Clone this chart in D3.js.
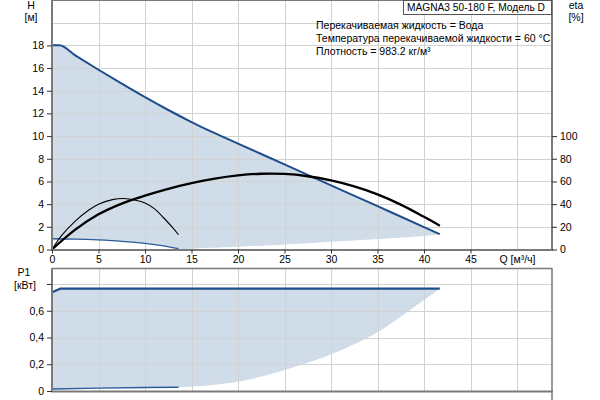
<!DOCTYPE html>
<html><head><meta charset="utf-8">
<script src="https://cdn.jsdelivr.net/npm/d3@7"></script>
<style>body{margin:0;background:#fff}svg{display:block;font-family:"Liberation Sans",Arial,sans-serif}</style>
</head><body><svg id="c" width="600" height="400"></svg>
<script>
// ---- data ----
const qTicks = [0,5,10,15,20,25,30,35,40,45];
const qAxisLabel = "Q [м³/ч]";
const hTicks = [0,2,4,6,8,10,12,14,16,18];
const hGrid = [0,2,4,6,8,10,12,14,16,18,20];
const etaTicks = [0,20,40,60,80,100];
const pTicks = [0,0.2,0.4,0.6];
const pGrid = [0,0.2,0.4,0.6,0.8];

// max-speed head curve
const hMaxQ = [0,0.8,2.5,5,7.5,10,12.5,15,17.5,20,25,30,35,40,41.7];
const hMaxH = [18,18,17.12,15.85,14.62,13.43,12.3,11.24,10.26,9.34,7.5,5.66,3.82,1.98,1.35];
// min-speed head curve
const hMinQ = [0,2.5,5,7.5,10,12,13.6];
const hMinH = [0.95,0.92,0.84,0.72,0.54,0.32,0.07];
// lower boundary of operating area (head)
const hLowQ = [13.6,17,20,25,30,35,40,41.7];
const hLowH = [0.07,0.15,0.25,0.45,0.69,0.93,1.2,1.35];
// efficiency max speed
const etaMaxQ = [0,2.5,5,7.5,10,12.5,15,17.5,20,22.5,25,27.5,30,32.5,35,37.5,40,41.7];
const etaMaxV = [0,17.5,31,40.5,47.5,53.5,58.5,62.5,65.3,66.8,66.6,64.6,60.9,55.6,48.6,39.6,28.8,21];
// efficiency min speed
const etaMinQ = [0,1,2.5,4,5,6.5,7.7,9,10,11,12,13,13.6];
const etaMinV = [0,12,25,35,40,44,45,43.5,41,36,28,19,13];
// power
const pMaxQ = [0,0.9,41.7];
const pMaxV = [0.738,0.765,0.765];
const pMinQ = [0,5,10,13.6];
const pMinV = [0.015,0.022,0.026,0.028];
const pLowQ = [13.6,20,25,30,35,40,41.7];
const pLowV = [0.028,0.07,0.157,0.274,0.44,0.68,0.765];

const title = "MAGNA3 50-180 F, Модель D";
const notes = ["Перекачиваемая жидкость = Вода","Температура перекачиваемой жидкости = 60 °C","Плотность = 983.2 кг/м³"];

// ---- layout ----
const svg = d3.select("#c");
const L = 52, R = 552;
const x = d3.scaleLinear().domain([0,50]).range([52,517]);
const yH = d3.scaleLinear().domain([0,22]).range([249.5,0]);
const yE = d3.scaleLinear().domain([0,220]).range([249.5,0]);
const yP = d3.scaleLinear().domain([0,0.8]).range([391,284]);
const topT = 0, topB = 249.5, botT = 269, botB = 391;

const FILL = "#d0dce8", BLUE = "#1d4d8c", GRID = "#d2d2d2", AX = "#7a7a7a";
const fs = "10.5px";
const zip = (a,b) => a.map((v,i)=>[v,b[i]]);

const fillG = svg.append("g");
const crv = d3.curveCatmullRom.alpha(0.5);
const lineHm = d3.line().x(d=>x(d[0])).y(d=>yH(d[1])).curve(d3.curveMonotoneX);
const lineH = d3.line().x(d=>x(d[0])).y(d=>yH(d[1])).curve(crv);
const lineE = d3.line().x(d=>x(d[0])).y(d=>yE(d[1])).curve(crv);
const lineP = d3.line().x(d=>x(d[0])).y(d=>yP(d[1]));
const linePc = d3.line().x(d=>x(d[0])).y(d=>yP(d[1])).curve(crv);

// fills
const hUpper = zip(hMaxQ,hMaxH);
const hLower = zip(hMinQ,hMinH).concat(zip(hLowQ,hLowH).slice(1));
fillG.append("path").attr("d", lineHm(hUpper) + "L" + lineH(hLower.slice().reverse()).slice(1) + "Z").attr("fill",FILL);
const pLower = zip(pMinQ,pMinV).concat(zip(pLowQ,pLowV).slice(1));
fillG.append("path").attr("d", lineP(zip(pMaxQ,pMaxV)) + "L" + linePc(pLower.slice().reverse()).slice(1) + "Z").attr("fill",FILL);

// grid
const gg = svg.append("g").attr("stroke",GRID).attr("stroke-width",1);
qTicks.concat([50]).forEach(q=>{
  const xx = Math.round(x(q))+0.5;
  gg.append("line").attr("x1",xx).attr("x2",xx).attr("y1",topT).attr("y2",topB);
  gg.append("line").attr("x1",xx).attr("x2",xx).attr("y1",botT).attr("y2",botB);
});
hGrid.forEach(h=>{const yy=Math.round(yH(h))+0.5; gg.append("line").attr("x1",L).attr("x2",R).attr("y1",yy).attr("y2",yy);});
pGrid.forEach(p=>{const yy=Math.round(yP(p))+0.5; gg.append("line").attr("x1",L).attr("x2",R).attr("y1",yy).attr("y2",yy);});

// curves
svg.append("path").attr("d",lineH(zip(hMinQ,hMinH))).attr("fill","none").attr("stroke","#2a5a98").attr("stroke-width",1.3);
svg.append("path").attr("d",lineHm(hUpper)).attr("fill","none").attr("stroke",BLUE).attr("stroke-width",2);
svg.append("path").attr("d",lineE(zip(etaMinQ,etaMinV))).attr("fill","none").attr("stroke","#000").attr("stroke-width",1.1);
svg.append("path").attr("d",lineE(zip(etaMaxQ,etaMaxV))).attr("fill","none").attr("stroke","#000").attr("stroke-width",2.3);
svg.append("path").attr("d",lineP(zip(pMaxQ,pMaxV))).attr("fill","none").attr("stroke",BLUE).attr("stroke-width",2.2);
svg.append("path").attr("d",lineP(zip(pMinQ,pMinV))).attr("fill","none").attr("stroke","#2a5a98").attr("stroke-width",1.3);

// frames
const fr = svg.append("g").attr("stroke",AX).attr("fill","none");
fr.append("line").attr("x1",L).attr("x2",R).attr("y1",0.5).attr("y2",0.5).attr("stroke-width",1);
fr.append("line").attr("x1",L).attr("x2",R).attr("y1",botT-0.5).attr("y2",botT-0.5).attr("stroke-width",1.5);
fr.append("line").attr("x1",R).attr("x2",R).attr("y1",botT-1).attr("y2",400).attr("stroke-width",1.5);
fr.append("line").attr("x1",R).attr("x2",R).attr("y1",0).attr("y2",topB+1).attr("stroke-width",2);
fr.append("line").attr("x1",L).attr("x2",L).attr("y1",0).attr("y2",topB+1).attr("stroke-width",2);
fr.append("line").attr("x1",L).attr("x2",L).attr("y1",botT-1).attr("y2",botB+1).attr("stroke-width",2);
fr.append("line").attr("x1",L-1).attr("x2",R+1).attr("y1",topB+0.5).attr("y2",topB+0.5).attr("stroke-width",2);
fr.append("line").attr("x1",L-1).attr("x2",R+1).attr("y1",botB+0.5).attr("y2",botB+0.5).attr("stroke-width",2);

// axes
const ax1 = svg.append("g").attr("transform",`translate(${L},0)`)
  .call(d3.axisLeft(yH).tickValues(hTicks).tickSize(5).tickPadding(3));
const ax2 = svg.append("g").attr("transform",`translate(${R},0)`)
  .call(d3.axisRight(yE).tickValues(etaTicks).tickSize(5).tickPadding(3));
const ax3 = svg.append("g").attr("transform",`translate(0,${topB})`)
  .call(d3.axisBottom(x).tickValues(qTicks.concat([50])).tickSize(4).tickPadding(2)
    .tickFormat(d=> d===50 ? qAxisLabel : d3.format("d")(d)));
const ax4 = svg.append("g").attr("transform",`translate(${L},0)`)
  .call(d3.axisLeft(yP).tickValues(pGrid).tickSize(5).tickPadding(3)
    .tickFormat(d=> pTicks.includes(d) ? (d===0?"0":d3.format(".1f")(d).replace(".",",")) : ""));
[ax1,ax2,ax3,ax4].forEach(a=>{
  a.select(".domain").remove();
  a.selectAll(".tick line").attr("stroke","#333");
  a.selectAll("text").attr("font-size",fs).attr("fill","#000").attr("font-family","Liberation Sans, Arial, sans-serif");
});
ax3.selectAll(".tick").filter(d=>d===50).select("line").attr("stroke","none");

// axis titles
const t = (s,xx,yy,anchor="middle",size=fs) => svg.append("text").attr("x",xx).attr("y",yy).attr("text-anchor",anchor)
  .attr("font-size",size).attr("fill","#000").text(s);
t("H",31,9); t("[м]",31,21);
t("eta",576,9); t("[%]",576,21);
t("P1",24,276); t("[кВт]",25,289);

// legend box
svg.append("rect").attr("x",403.5).attr("y",0.5).attr("width",148).attr("height",14).attr("fill","#fff").attr("stroke","#555");
t(title,407,11,"start","10.2px");
notes.forEach((s,i)=>t(s,316,29+i*13,"start"));
</script></body></html>
